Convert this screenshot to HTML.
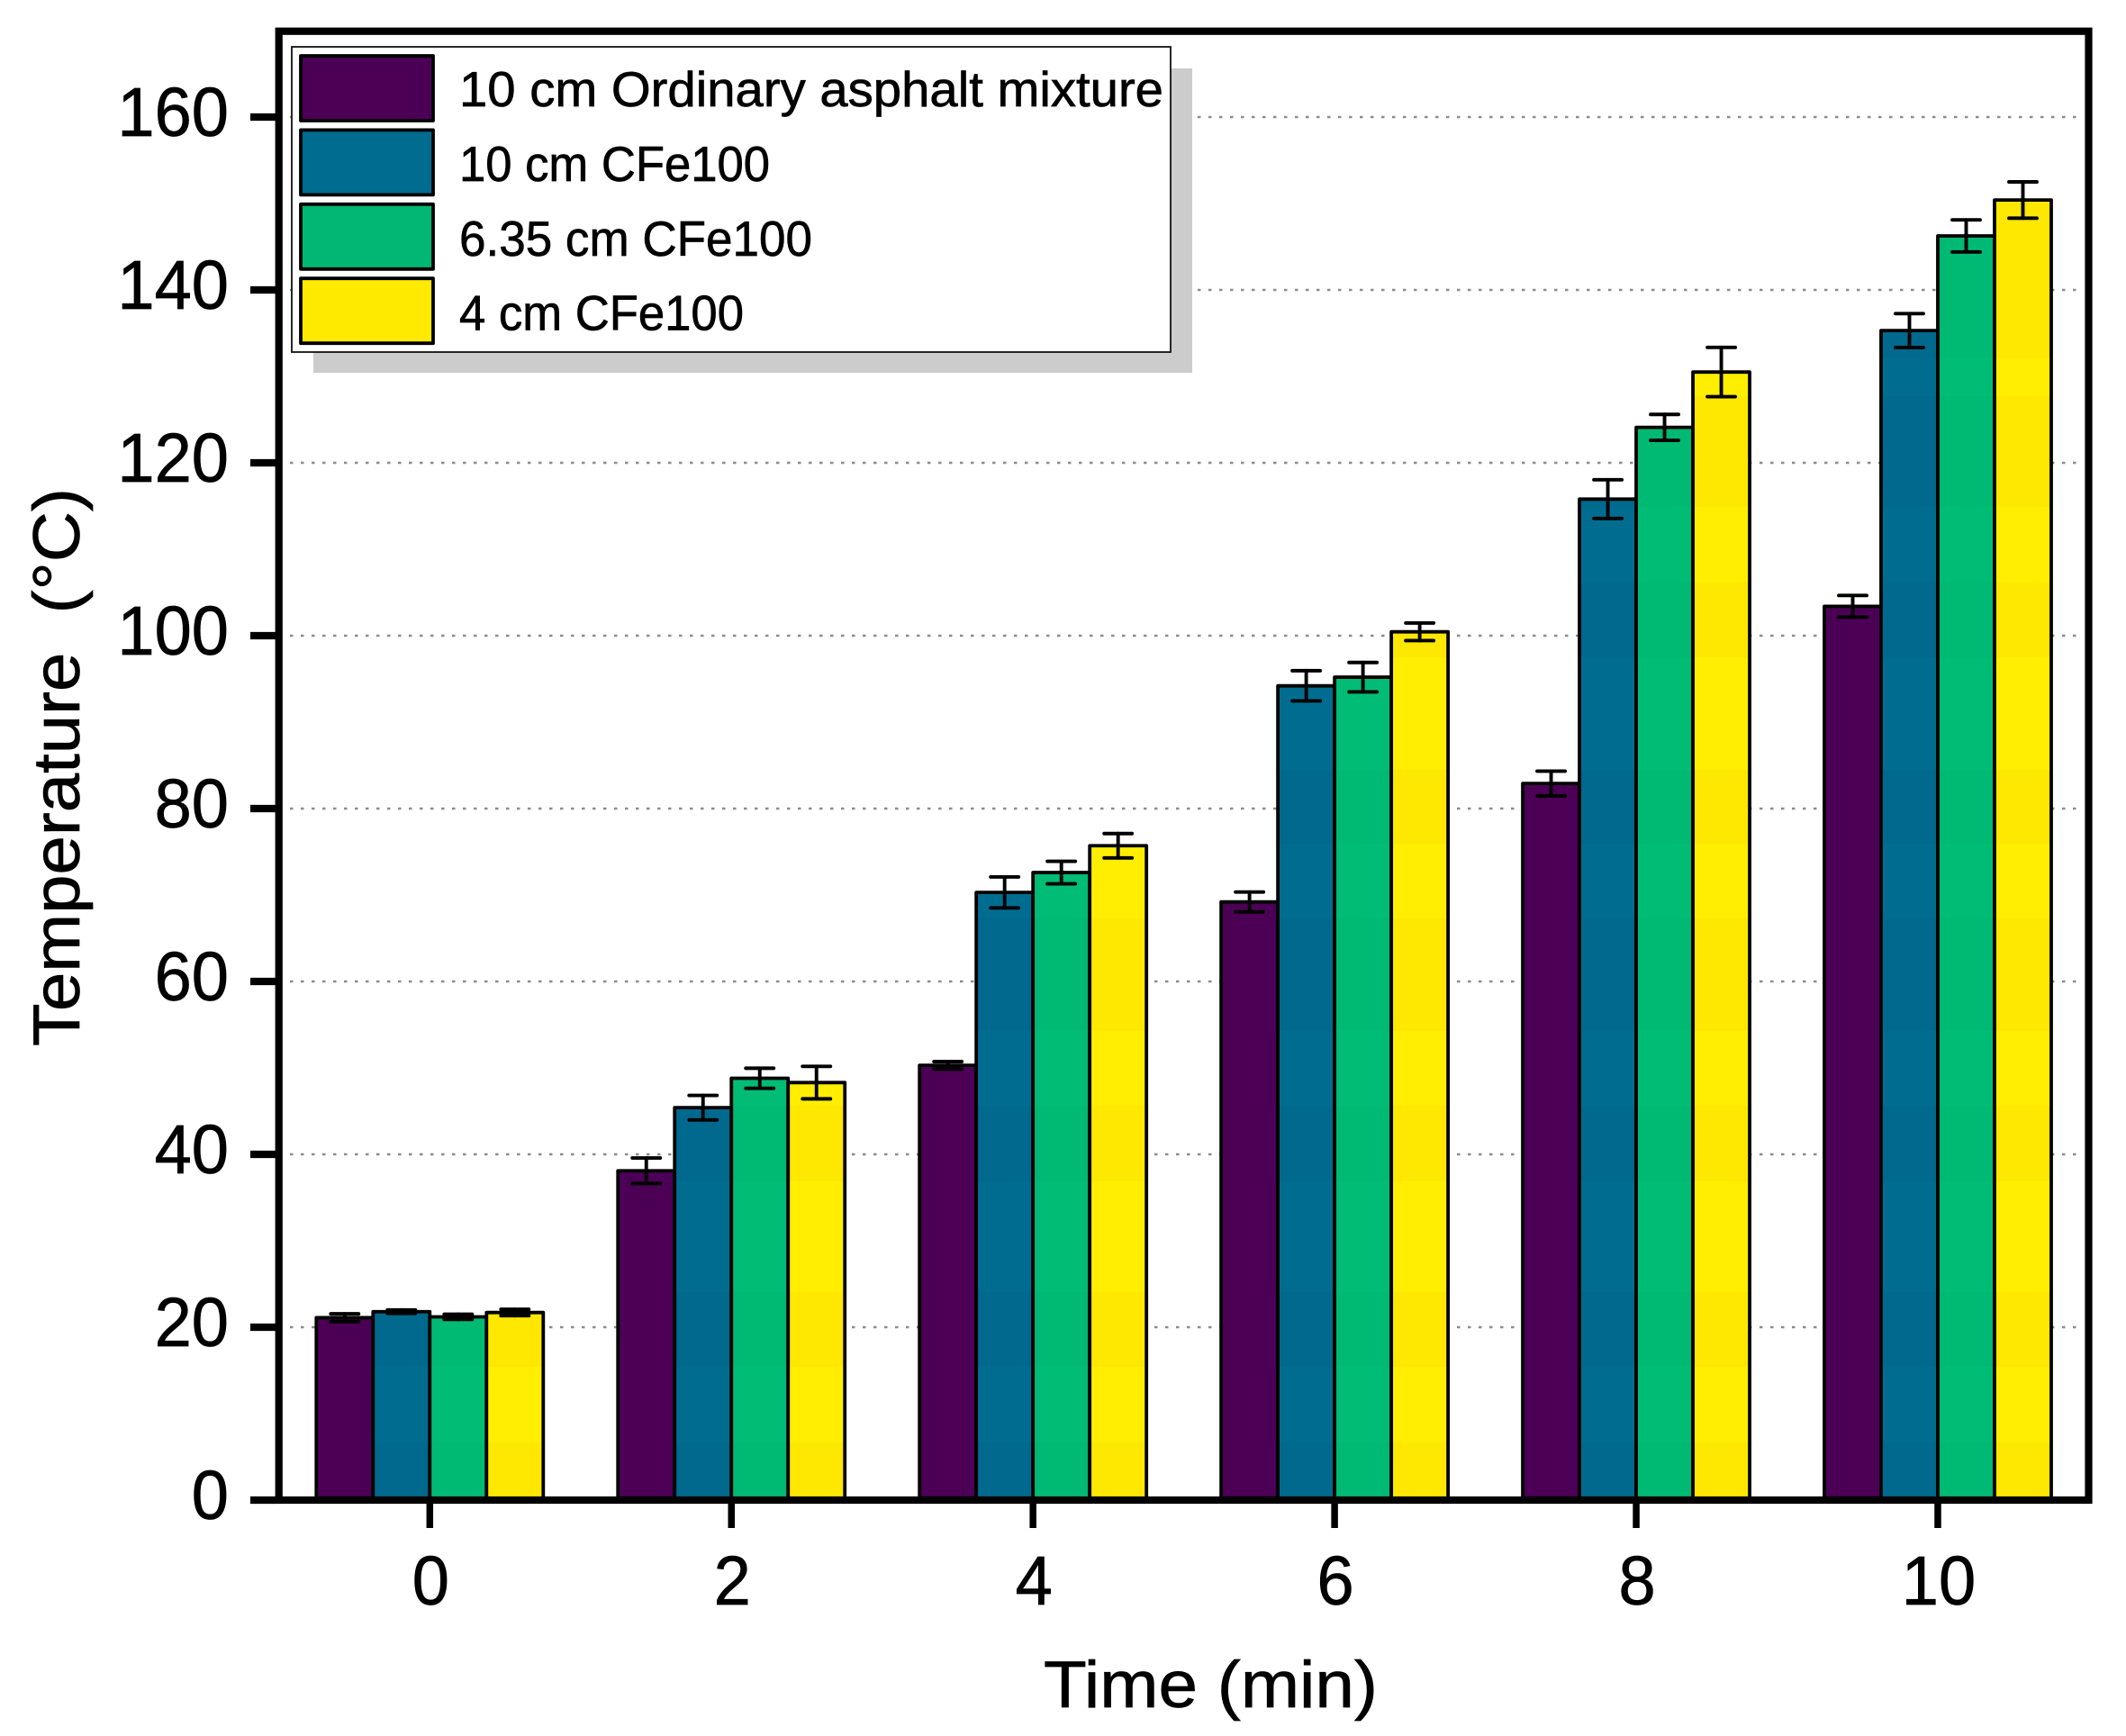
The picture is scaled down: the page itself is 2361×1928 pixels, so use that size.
<!DOCTYPE html>
<html lang="en">
<head>
<meta charset="utf-8">
<title>Temperature vs Time bar chart</title>
<style>
html,body{margin:0;padding:0;background:#fff;}
svg{display:block;}
text{font-family:"Liberation Sans",sans-serif;fill:#000;stroke:#000;stroke-width:0.7px;}
.tick-label{font-size:77px;}
.axis-title{font-size:73px;white-space:pre;}
.legend-label{font-size:55px;white-space:pre;}
</style>
</head>
<body>
<svg id="chart" xmlns="http://www.w3.org/2000/svg" width="2361" height="1928" viewBox="0 0 2361 1928">
  <defs id="defs"></defs>
  <rect x="0" y="0" width="2361" height="1928" fill="#ffffff"/>
  <g id="grid"></g>
  <g id="bars"></g>
  <g id="errors"></g>

  <g>
    <rect x="348" y="76" width="976" height="338" fill="#cccccc"/>
    <rect x="324" y="52" width="976" height="339" fill="#ffffff" stroke="#111111" stroke-width="1.8"/>
    <g>
      <rect x="334" y="62" width="147" height="72" fill="#4b0055" stroke="#000" stroke-width="3.8" stroke-linejoin="round"/>
      <text class="legend-label" x="510" y="118" textLength="782" lengthAdjust="spacingAndGlyphs">10 cm Ordinary asphalt mixture</text>
    </g>
    <g>
      <rect x="334" y="144.400" width="147" height="72" fill="#006c90" stroke="#000" stroke-width="3.8" stroke-linejoin="round"/>
      <text class="legend-label" x="510" y="201" textLength="345" lengthAdjust="spacingAndGlyphs">10 cm CFe100</text>
    </g>
    <g>
      <rect x="334" y="226.800" width="147" height="72" fill="#00b873" stroke="#000" stroke-width="3.8" stroke-linejoin="round"/>
      <text class="legend-label" x="510" y="284" textLength="392" lengthAdjust="spacingAndGlyphs">6.35 cm CFe100</text>
    </g>
    <g>
      <rect x="334" y="309.200" width="147" height="72" fill="#fee900" stroke="#000" stroke-width="3.8" stroke-linejoin="round"/>
      <text class="legend-label" x="510" y="366.500" textLength="316" lengthAdjust="spacingAndGlyphs">4 cm CFe100</text>
    </g>
  </g>

  <g id="axes">
    <rect x="309.700" y="34.700" width="2009.800" height="1631.300" fill="none" stroke="#000" stroke-width="8.200"/>
  </g>
  <g id="yticks"></g>
  <g id="xticks"></g>

  <text class="axis-title" x="1159" y="1896" textLength="371" lengthAdjust="spacingAndGlyphs">Time (min)</text>
  <text class="axis-title" transform="translate(88,1162) rotate(-90)" x="0" y="0" textLength="620" lengthAdjust="spacingAndGlyphs">Temperature  (°C)</text>
</svg>

<script>
const categories = [0, 2, 4, 6, 8, 10];
const ordinaryValues = [21.1, 38.1, 50.3, 69.2, 82.9, 103.4];
const ordinaryErrors = [0.45, 1.48, 0.43, 1.15, 1.43, 1.25];
const cfe10Values = [21.8, 45.4, 70.3, 94.2, 115.8, 135.3];
const cfe10Errors = [0.2, 1.42, 1.79, 1.75, 2.24, 1.96];
const cfe635Values = [21.2, 48.8, 72.6, 95.2, 124.1, 146.25];
const cfe635Errors = [0.3, 1.16, 1.3, 1.7, 1.5, 1.86];
const cfe4Values = [21.7, 48.3, 75.7, 100.45, 130.5, 150.4];
const cfe4Errors = [0.37, 1.88, 1.41, 1.02, 2.85, 2.1];
const yTickValues = [0, 20, 40, 60, 80, 100, 120, 140, 160];

const NS = 'http://www.w3.org/2000/svg';

function yScale(v) { return 1666 - v * 9.6; }
function xScale(t) { return 477.3 + t * 167.47; }

function make(tag, attrs, parent) {
  const el = document.createElementNS(NS, tag);
  for (const k in attrs) el.setAttribute(k, attrs[k]);
  parent.appendChild(el);
  return el;
}

function makeBandGradient(id, dark, bright) {
  const edges = [398, 440, 563, 647, 730, 855, 937, 1020, 1145, 1228, 1312, 1435, 1518, 1602];
  const g = make('linearGradient', { id: id, gradientUnits: 'userSpaceOnUse', x1: 0, x2: 0, y1: 0, y2: 1928 }, document.getElementById('defs'));
  let isBright = false;
  let prev = 0;
  edges.concat([1928]).forEach(function (edge) {
    const c = isBright ? bright : dark;
    make('stop', { offset: prev / 1928, 'stop-color': c }, g);
    make('stop', { offset: edge / 1928, 'stop-color': c }, g);
    prev = edge;
    isBright = !isBright;
  });
}

makeBandGradient('blue-bands', '#00698d', '#006d90');
makeBandGradient('green-bands', '#00b972', '#00bc74');
makeBandGradient('yellow-bands', '#fee700', '#ffee00');

const seriesKeys = ['ordinary', 'cfe10', 'cfe635', 'cfe4'];
const seriesFills = ['#4b0055', 'url(#blue-bands)', 'url(#green-bands)', 'url(#yellow-bands)'];
const seriesValues = [ordinaryValues, cfe10Values, cfe635Values, cfe4Values];
const seriesErrors = [ordinaryErrors, cfe10Errors, cfe635Errors, cfe4Errors];

const gridLayer = document.getElementById('grid');
const barLayer = document.getElementById('bars');
const errorLayer = document.getElementById('errors');
const yTickLayer = document.getElementById('yticks');
const xTickLayer = document.getElementById('xticks');

yTickValues.forEach(function (v) {
  const y = yScale(v);
  if (v > 0) {
    const line = make('line', { x1: 322, x2: 2314, y1: y, y2: y, stroke: '#8c8c8c', 'stroke-width': 2.6, 'stroke-dasharray': '3.5 8.5' }, gridLayer);
    
    
  }
  const tick = make('line', { x1: 278, x2: 306, y1: y, y2: y, stroke: '#000', 'stroke-width': 8.2 }, yTickLayer);
  
  
  const digits = String(v).length;
  const label = make('text', { x: 254, y: y + 21, 'text-anchor': 'end', class: 'tick-label', textLength: digits * 41.2, lengthAdjust: 'spacingAndGlyphs' }, yTickLayer);
  label.textContent = String(v);
  
  
});

categories.forEach(function (c, i) {
  const cx = xScale(c);
  const tick = make('line', { x1: cx, x2: cx, y1: 1668, y2: 1697, stroke: '#000', 'stroke-width': 7.5 }, xTickLayer);
  
  
  const digits = String(c).length;
  const label = make('text', { x: cx + 1, y: 1782, 'text-anchor': 'middle', class: 'tick-label', textLength: digits * 41.2, lengthAdjust: 'spacingAndGlyphs' }, xTickLayer);
  label.textContent = String(c);
  
  

  seriesValues.forEach(function (values, s) {
    const barWidth = 63;
    const left = cx + (s - 2) * barWidth;
    const mid = left + barWidth / 2;
    const top = yScale(values[i]);
    const bar = make('rect', { x: left, y: top, width: barWidth, height: 1666 - top, fill: seriesFills[s], stroke: '#000', 'stroke-width': 3.8, 'stroke-linejoin': 'round' }, barLayer);
    
    

    const hi = yScale(values[i] + seriesErrors[s][i]);
    const lo = yScale(values[i] - seriesErrors[s][i]);
    const err = make('g', { stroke: '#000', 'stroke-width': 3.9, 'stroke-linecap': 'round', fill: 'none' }, errorLayer);
    
    
    make('line', { x1: mid, x2: mid, y1: hi, y2: lo }, err);
    make('line', { x1: mid - 15.5, x2: mid + 15.5, y1: hi, y2: hi }, err);
    make('line', { x1: mid - 15.5, x2: mid + 15.5, y1: lo, y2: lo }, err);
  });
});
</script>
</body>
</html>
